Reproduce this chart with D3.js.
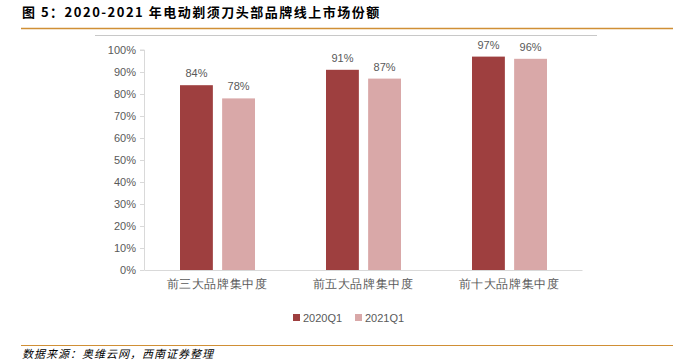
<!DOCTYPE html>
<html>
<head>
<meta charset="utf-8">
<script src="https://cdn.jsdelivr.net/npm/d3@7"></script>
<style>
  body { margin: 0; background: #fff; }
  svg { display: block; font-family: "Noto Sans CJK SC", "Noto Sans", sans-serif; }
</style>
</head>
<body>
<svg id="chart" width="678" height="360"></svg>
<script>
// data
const categories = ["前三大品牌集中度", "前五大品牌集中度", "前十大品牌集中度"];
const seriesNames = ["2020Q1", "2021Q1"];
const v2020 = [84, 91, 97];
const v2021 = [78, 87, 96];
const yTicks = [0, 10, 20, 30, 40, 50, 60, 70, 80, 90, 100];

const colors = ["#9E3F3F", "#D9A8A8"];
const textGrey = "#595959";

let svg = d3.select("#chart");

// heading
svg.append("text")
    .attr("x", 22).attr("y", 17)
    .attr("font-size", 13).attr("font-weight", "bold").attr("fill", "#000")
    .attr("letter-spacing", 1.5)
    .text("图 5：2020-2021 年电动剃须刀头部品牌线上市场份额");

svg.append("line")
    .attr("x1", 21).attr("x2", 673).attr("y1", 28.5).attr("y2", 28.5)
    .attr("stroke", "#D08F35").attr("stroke-width", 1.5);

// chart area top border
svg.append("line")
    .attr("x1", 95).attr("x2", 597).attr("y1", 35.5).attr("y2", 35.5)
    .attr("stroke", "#C8C8C8");

let margin = {top: 50, left: 144, right: 96, bottom: 90};
let width = 678 - margin.left - margin.right;
let height = 360 - margin.top - margin.bottom;

let g = svg.append("g").attr("transform", "translate(" + margin.left + "," + margin.top + ")");

let x0 = d3.scaleBand().domain(categories).range([0, width]).paddingInner(0).paddingOuter(0);
let x1 = d3.scaleBand().domain(seriesNames).range([36, x0.bandwidth() - 35]).paddingInner(0.22);
let y = d3.scaleLinear().domain([0, 100]).range([height, 0]);

// y axis
let yAxis = g.append("g")
    .call(d3.axisLeft(y).tickValues(yTicks).tickSize(4).tickFormat(d => d + "%"));
yAxis.select(".domain").attr("stroke", "#D9D9D9").attr("d", "M-4," + y(100) + "H0.5V" + (height + 0.5));
yAxis.selectAll(".tick line").attr("stroke", "#D9D9D9").attr("x2", -4);
yAxis.selectAll(".tick text").attr("fill", textGrey).attr("font-size", 11)
    .attr("font-family", "Liberation Sans, Arial, sans-serif").attr("x", -8);

// x axis
let xAxis = g.append("g")
    .attr("transform", "translate(0," + height + ")")
    .call(d3.axisBottom(x0).tickSize(0));
xAxis.select(".domain").attr("stroke", "#D9D9D9");
xAxis.selectAll(".tick text").attr("fill", textGrey).attr("font-size", 12)
    .attr("letter-spacing", 0.6).attr("dy", "1.25em");

// bars
let rows = categories.map((c, i) => ({cat: c, vals: [v2020[i], v2021[i]]}));
let grp = g.selectAll(".grp").data(rows).enter().append("g")
    .attr("transform", d => "translate(" + x0(d.cat) + ",0)");

grp.selectAll("rect").data(d => d.vals.map((v, i) => ({s: seriesNames[i], v: v, i: i})))
    .enter().append("rect")
    .attr("x", d => x1(d.s))
    .attr("y", d => y(d.v))
    .attr("width", x1.bandwidth())
    .attr("height", d => height - y(d.v))
    .attr("fill", d => colors[d.i]);

grp.selectAll(".lbl").data(d => d.vals.map((v, i) => ({s: seriesNames[i], v: v})))
    .enter().append("text")
    .attr("x", d => x1(d.s) + x1.bandwidth() / 2)
    .attr("y", d => y(d.v) - 8)
    .attr("text-anchor", "middle")
    .attr("font-size", 11)
    .attr("font-family", "Liberation Sans, Arial, sans-serif")
    .attr("fill", textGrey)
    .text(d => d.v + "%");

// legend
let legX = [293, 355];
let leg = svg.selectAll(".leg").data(seriesNames).enter().append("g")
    .attr("transform", (d, i) => "translate(" + legX[i] + ",314)");
leg.append("rect").attr("width", 7).attr("height", 7).attr("fill", (d, i) => colors[i]);
leg.append("text").attr("x", 10).attr("y", 8)
    .attr("font-size", 11).attr("fill", textGrey)
    .attr("font-family", "Liberation Sans, Arial, sans-serif")
    .text(d => d);

// footer
svg.append("line")
    .attr("x1", 21).attr("x2", 673).attr("y1", 345.5).attr("y2", 345.5)
    .attr("stroke", "#D08F35").attr("stroke-width", 1.2);
svg.append("text")
    .attr("x", 22).attr("y", 358)
    .attr("font-size", 11).attr("font-style", "italic").attr("fill", "#000")
    .attr("letter-spacing", 1)
    .text("数据来源：奥维云网，西南证券整理");
</script>
</body>
</html>
